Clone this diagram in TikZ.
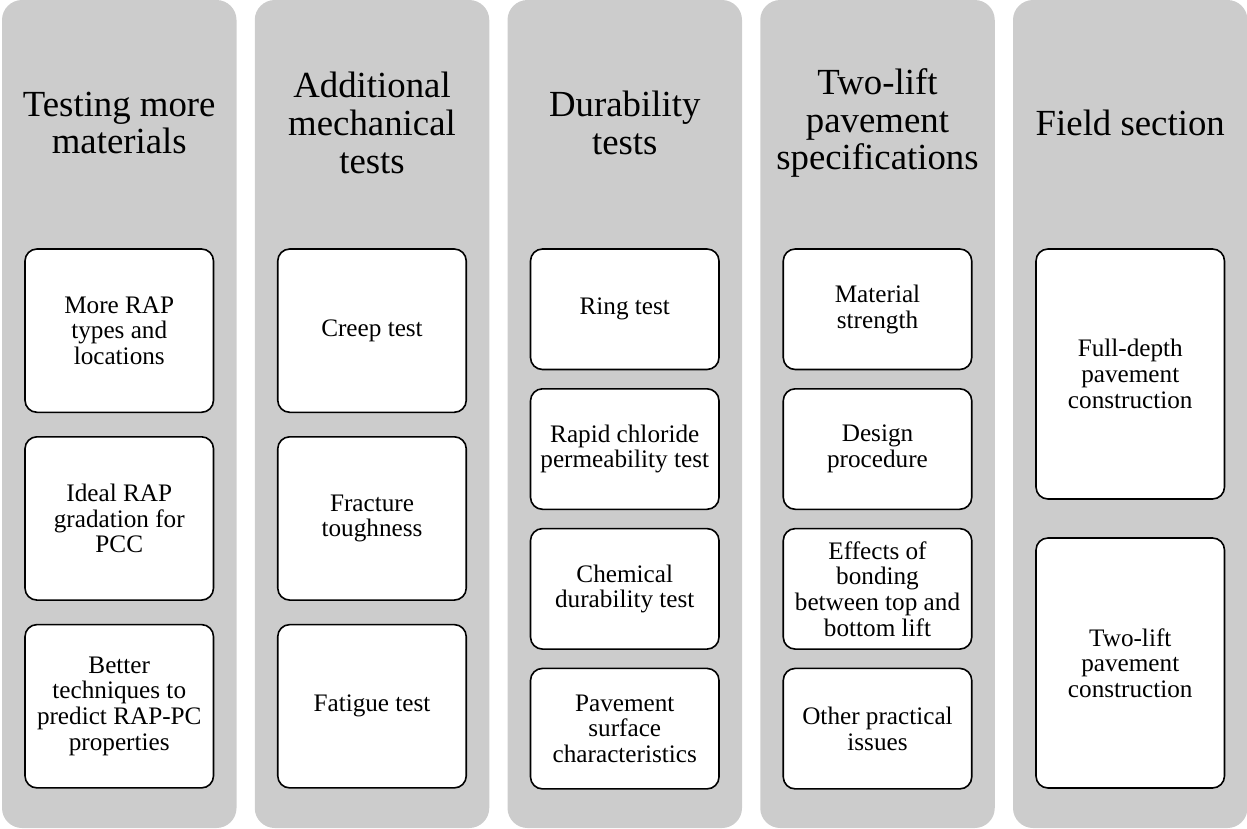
\documentclass[tikz,border=0pt]{standalone}
\usepackage{fontspec}
\setmainfont{Liberation Serif}
\begin{document}
\begin{tikzpicture}[x=1pt,y=-1pt,
  colbg/.style={fill=colgrey,draw=none,rounded corners=20pt},
  title/.style={align=center,inner sep=0pt,font={\fontsize{36.8}{37.7}\selectfont}},
  item/.style={draw=black,fill=white,line width=1.6pt,rounded corners=12pt,
    minimum width=188.5pt,inner sep=0pt,align=center,
    font={\fontsize{25.2}{25.7}\selectfont}},
  itemA/.style={item,minimum height=163.3pt},
  itemB/.style={item,minimum height=120.5pt},
  itemC/.style={item,minimum height=250pt}]
\definecolor{colgrey}{HTML}{CCCCCC}
\useasboundingbox (0,0) rectangle (1247,828);
% columns
\path[colbg] (2,0) rectangle (236.5,828);
\path[colbg] (254.75,0) rectangle (489.25,828);
\path[colbg] (507.5,0) rectangle (742,828);
\path[colbg] (760.25,0) rectangle (994.75,828);
\path[colbg] (1013,0) rectangle (1247.5,828);
% titles
\node[title] (t1) at (119.25,123) {Testing more\\materials};
\node[title] (t2) at (372,123) {Additional\\mechanical\\tests};
\node[title] (t3) at (624.75,123) {Durability\\tests};
\node[title] (t4) at (877.5,123) {Two-lift\\pavement\\specifications};
\node[title] (t5) at (1130.25,123) {Field section};
% column 1
\node[itemA] (a1) at (119.25,330.65) {More RAP\\types and\\locations};
\node[itemA] (a2) at (119.25,518.45) {Ideal RAP\\gradation for\\PCC};
\node[itemA] (a3) at (119.25,706.25) {Better\\techniques to\\predict RAP-PC\\properties};
% column 2
\node[itemA] (b1) at (372,330.65) {Creep test};
\node[itemA] (b2) at (372,518.45) {Fracture\\toughness};
\node[itemA] (b3) at (372,706.25) {Fatigue test};
% column 3
\node[itemB] (c1) at (624.75,309.25) {Ring test};
\node[itemB] (c2) at (624.75,449.05) {Rapid chloride\\permeability test};
\node[itemB] (c3) at (624.75,588.85) {Chemical\\durability test};
\node[itemB] (c4) at (624.75,728.65) {Pavement\\surface\\characteristics};
% column 4
\node[itemB] (d1) at (877.5,309.25) {Material\\strength};
\node[itemB] (d2) at (877.5,449.05) {Design\\procedure};
\node[itemB] (d3) at (877.5,588.85) {Effects of\\bonding\\between top and\\bottom lift};
\node[itemB] (d4) at (877.5,728.65) {Other practical\\issues};
% column 5
\node[itemC] (e1) at (1130.25,374) {Full-depth\\pavement\\construction};
\node[itemC] (e2) at (1130.25,663) {Two-lift\\pavement\\construction};
\end{tikzpicture}
\end{document}
